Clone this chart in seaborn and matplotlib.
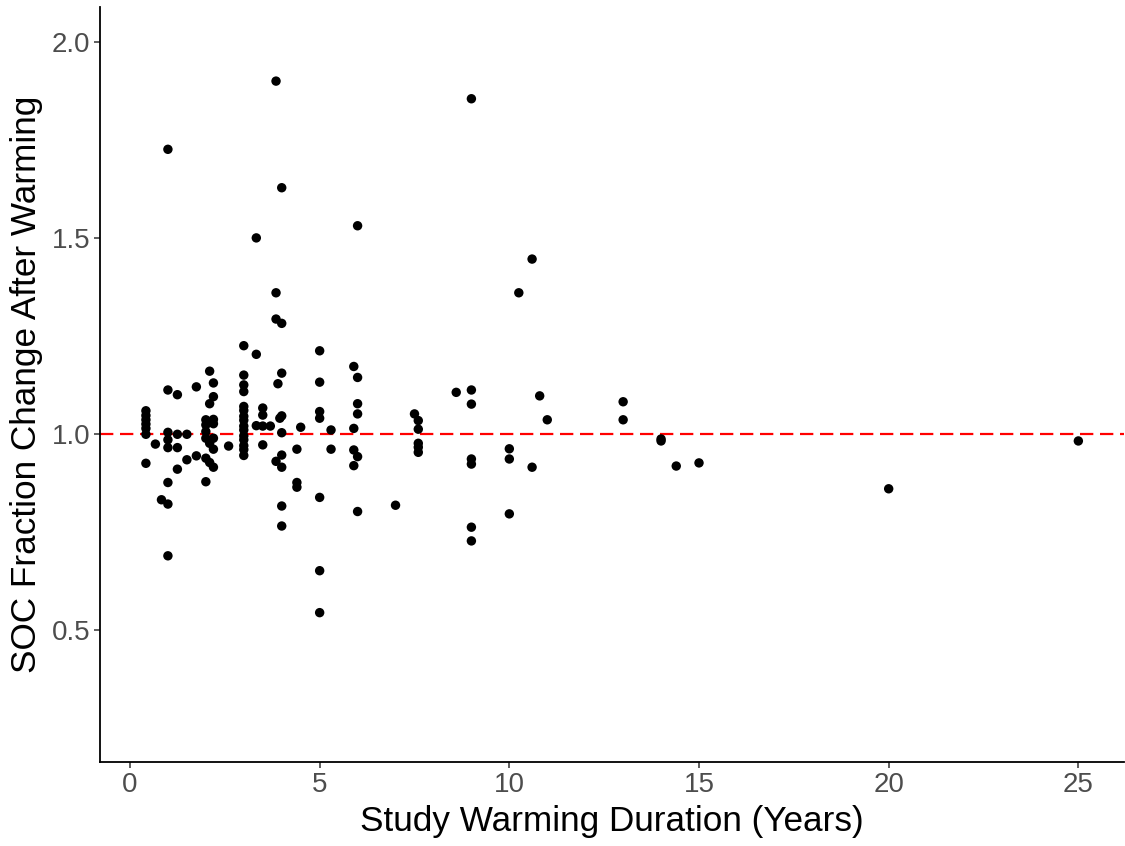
import matplotlib
matplotlib.use("Agg")
import matplotlib.pyplot as plt
import seaborn as sns
import pandas as pd

# Study warming duration (years)
duration = [
    3.85, 9.0, 1.0, 4.0, 6.0, 3.33, 10.6, 3.85, 10.25, 3.85, 4.0, 3.0, 3.33, 5.0,
    5.9, 2.1, 4.0, 3.0, 6.0, 2.2, 3.0, 5.0, 3.9, 1.75, 1.0, 3.0, 9.0, 8.6, 1.25,
    10.8, 2.2, 2.1, 6.0, 9.0, 13.0,
    0.42, 0.42, 0.42, 0.42, 0.42, 0.42, 0.42,
    0.67, 0.83,
    1.0, 1.0, 1.0, 1.0, 1.0, 1.0,
    1.25, 1.25, 1.25,
    1.5, 1.5, 1.75,
    2.0, 2.0, 2.0, 2.0, 2.0, 2.0,
    2.1, 2.1,
    2.2, 2.2, 2.2, 2.2, 2.2,
    2.6,
    3.0, 3.0, 3.0, 3.0, 3.0, 3.0, 3.0, 3.0, 3.0, 3.0, 3.0,
    3.33, 3.5, 3.5, 3.5, 3.5, 3.7, 3.85, 3.95,
    4.0, 4.0, 4.0, 4.0, 4.0, 4.0,
    4.4, 4.4, 4.4, 4.5,
    5.0, 5.0, 5.0, 5.0, 5.0,
    5.3, 5.3,
    5.9, 5.9, 5.9,
    6.0, 6.0, 6.0,
    7.0, 7.5,
    7.6, 7.6, 7.6, 7.6, 7.6,
    9.0, 9.0, 9.0, 9.0,
    10.0, 10.0, 10.0,
    10.6, 11.0, 13.0, 14.0, 14.0, 14.4, 15.0, 20.0, 25.0,
]

# SOC fraction change after warming
soc_change = [
    1.90, 1.855, 1.726, 1.628, 1.531, 1.50, 1.446, 1.36, 1.36, 1.293, 1.282, 1.225, 1.203, 1.212,
    1.172, 1.16, 1.155, 1.15, 1.144, 1.13, 1.125, 1.132, 1.128, 1.12, 1.112, 1.108, 1.112, 1.106, 1.10,
    1.097, 1.095, 1.077, 1.077, 1.076, 1.082,
    1.059, 1.047, 1.036, 1.025, 1.014, 0.999, 0.925,
    0.974, 0.832,
    1.004, 0.985, 0.965, 0.876, 0.821, 0.689,
    0.999, 0.965, 0.91,
    0.999, 0.934, 0.944,
    1.036, 1.023, 1.006, 0.989, 0.938, 0.878,
    0.976, 0.927,
    1.037, 1.026, 0.989, 0.961, 0.915,
    0.969,
    1.07, 1.06, 1.045, 1.035, 1.02, 1.01, 0.995, 0.985, 0.97, 0.96, 0.945,
    1.021, 1.066, 1.048, 1.02, 0.972, 1.02, 0.93, 1.04,
    1.046, 1.003, 0.946, 0.915, 0.816, 0.765,
    0.961, 0.876, 0.864, 1.017,
    1.057, 1.040, 0.838, 0.651, 0.544,
    1.01, 0.961,
    1.014, 0.959, 0.919,
    1.051, 0.942, 0.802,
    0.818, 1.051,
    1.034, 1.012, 0.976, 0.966, 0.953,
    0.936, 0.923, 0.762, 0.727,
    0.962, 0.936, 0.796,
    0.915, 1.036, 1.036, 0.987, 0.982, 0.918, 0.926, 0.86, 0.982,
]

x_ticks = [0, 5, 10, 15, 20, 25]
y_ticks = [0.5, 1.0, 1.5, 2.0]
y_tick_labels = ["0.5", "1.0", "1.5", "2.0"]

df = pd.DataFrame({"duration": duration, "soc": soc_change})

sns.set_style("white")
plt.rcParams["font.family"] = ["Liberation Sans", "DejaVu Sans"]

fig = plt.figure(figsize=(11.25, 8.46), dpi=100)
ax = fig.add_axes([0.0889, 0.0993, 0.9101, 0.8924])

ax.axhline(1.0, color="#FF0000", linewidth=1.6, linestyle=(0, (6, 3)), zorder=1)
sns.scatterplot(data=df, x="duration", y="soc", ax=ax, color="black",
                s=46, edgecolor="none", linewidth=0, zorder=2)

ax.set_xlim(-0.79, 26.2)
ax.set_ylim(0.163, 2.089)
ax.set_xticks(x_ticks)
ax.set_xticklabels([str(t) for t in x_ticks])
ax.set_yticks(y_ticks)
ax.set_yticklabels(y_tick_labels)

ax.set_xlabel("Study Warming Duration (Years)", fontsize=25.3, color="black", labelpad=5)
ax.set_ylabel("SOC Fraction Change After Warming", fontsize=25.3, color="black", labelpad=6)

ax.tick_params(axis="both", which="major", labelsize=20, labelcolor="#4D4D4D",
               color="#333333", length=4, width=1.1, direction="out",
               bottom=True, left=True, pad=3)

for side in ["top", "right"]:
    ax.spines[side].set_visible(False)
for side in ["left", "bottom"]:
    ax.spines[side].set_color("black")
    ax.spines[side].set_linewidth(1.3)

fig.savefig("out.png", dpi=100)
